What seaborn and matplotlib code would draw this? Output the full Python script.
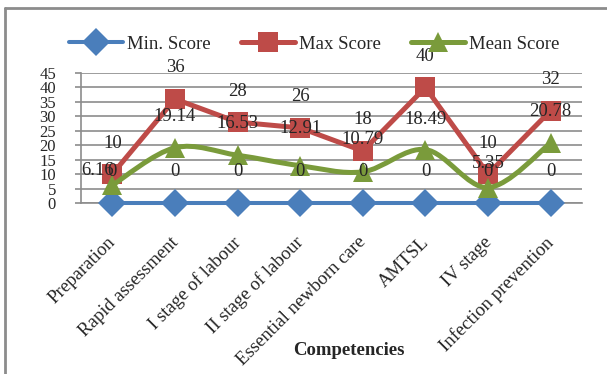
import numpy as np
import pandas as pd
import matplotlib
matplotlib.use('Agg')
import matplotlib.pyplot as plt
from matplotlib.path import Path
from matplotlib.patches import PathPatch
from matplotlib.lines import Line2D
import seaborn as sns

# data
competencies = ['Preparation', 'Rapid assessment', 'I stage of labour', 'II stage of labour',
                'Essential newborn care', 'AMTSL', 'IV stage', 'Infection prevention']
min_score = [0, 0, 0, 0, 0, 0, 0, 0]
max_score = [10, 36, 28, 26, 18, 40, 10, 32]
mean_score = [6.16, 19.14, 16.53, 12.91, 10.79, 18.49, 5.35, 20.78]
mean_labels = ['6.16', '19.14', '16.53', '12.91', '10.79', '18.49', '5.35', '20.78']

sns.set_theme(style='white')
plt.rcParams['font.family'] = ['Liberation Serif', 'DejaVu Serif']

blue = '#4A7EBB'
red = '#BE4B48'
green = '#7A9B3B'
grey = '#8C8C8C'

df = pd.DataFrame({'pos': np.arange(len(competencies)), 'min': min_score,
                   'max': max_score, 'mean': mean_score})

fig = plt.figure(figsize=(6.07, 3.74), dpi=100)
ax = fig.add_axes([81 / 607, 171 / 374, 501 / 607, 130 / 374])

sns.lineplot(data=df, x='pos', y='min', color=blue, linewidth=2.9, marker='D',
             markersize=14, markeredgewidth=0, ax=ax, zorder=3, clip_on=False)
sns.lineplot(data=df, x='pos', y='max', color=red, linewidth=3.6, marker='s',
             markersize=14, markeredgewidth=0, ax=ax, zorder=4, clip_on=False)

# smoothed line for the mean (Catmull-Rom style bezier, like Excel's smooth line)
pts = np.column_stack([df['pos'].values, df['mean'].values]).astype(float)
verts = [pts[0]]
codes = [Path.MOVETO]
n = len(pts)
for i in range(n - 1):
    p0 = pts[max(i - 1, 0)]
    p1 = pts[i]
    p2 = pts[i + 1]
    p3 = pts[min(i + 2, n - 1)]
    verts += [p1 + (p2 - p0) / 6, p2 - (p3 - p1) / 6, p2]
    codes += [Path.CURVE4] * 3
ax.add_patch(PathPatch(Path(verts, codes), facecolor='none', edgecolor=green,
                       linewidth=3.6, zorder=5, capstyle='round', clip_on=False))
sns.lineplot(data=df, x='pos', y='mean', color=green, linestyle='none', marker='^',
             markersize=15, markeredgewidth=0, ax=ax, zorder=6, clip_on=False)

# data labels
for i in range(n):
    ax.annotate(str(min_score[i]), (i, min_score[i]), xytext=(0, 31), textcoords='offset pixels',
                ha='center', va='center', fontsize=13.5, zorder=10)
    ax.annotate(str(max_score[i]), (i, max_score[i]), xytext=(0, 31), textcoords='offset pixels',
                ha='center', va='center', fontsize=13.5, zorder=10)
mean_offsets = [(-15, 15), (0, 31), (0, 32), (0, 37), (0, 32), (0, 30), (0, 24), (0, 31)]
for i in range(n):
    ax.annotate(mean_labels[i], (i, mean_score[i]), xytext=mean_offsets[i], textcoords='offset pixels',
                ha='center', va='center', fontsize=13.5, zorder=10)

ax.set_xlim(-0.5, n - 0.5)
ax.set_ylim(0, 45)
ax.set_yticks(np.arange(0, 46, 5))
# label anchors sit a little right of the category centre, as in the original
ax.set_xticks(np.arange(n) + 0.11)
ax.set_xticklabels(competencies, rotation=45, ha='right', va='top', fontsize=13.5)
ax.set_xticks(np.arange(n + 1) - 0.5, minor=True)
ax.tick_params(axis='x', which='major', length=0, pad=22)
ax.tick_params(axis='x', which='minor', length=5, width=1.2, color=grey, direction='out')
ax.tick_params(axis='y', length=4, width=1.2, color=grey, direction='out', left=True,
               labelsize=12, pad=14)
ax.grid(axis='y', color=grey, linewidth=1.2)
ax.set_axisbelow(True)
for s in ['top', 'right']:
    ax.spines[s].set_visible(False)
for s in ['left', 'bottom']:
    ax.spines[s].set_color(grey)
    ax.spines[s].set_linewidth(1.2)
ax.set_ylabel('')
ax.set_xlabel('Competencies', fontsize=13.5, fontweight='bold')
ax.xaxis.set_label_coords((349 - 81) / 501, -1.07)

handles = [Line2D([], [], color=blue, linewidth=2.9, marker='D', markersize=14, markeredgewidth=0),
           Line2D([], [], color=red, linewidth=3.6, marker='s', markersize=14, markeredgewidth=0),
           Line2D([], [], color=green, linewidth=3.6, marker='^', markersize=15, markeredgewidth=0)]
fig.legend(handles, ['Min. Score', 'Max Score', 'Mean Score'], loc='center',
           bbox_to_anchor=(314 / 607, 1 - 44 / 374), ncol=3, frameon=False, fontsize=13.5,
           handlelength=2.9, handletextpad=0.2, columnspacing=1.6)

# chart frame (top and left edges visible)
fig.add_artist(Line2D([5 / 607, 1], [1 - 8 / 374, 1 - 8 / 374], color=grey, linewidth=2))
fig.add_artist(Line2D([5 / 607, 5 / 607], [0, 1 - 8 / 374], color=grey, linewidth=2))

fig.savefig('out.png', dpi=100)
